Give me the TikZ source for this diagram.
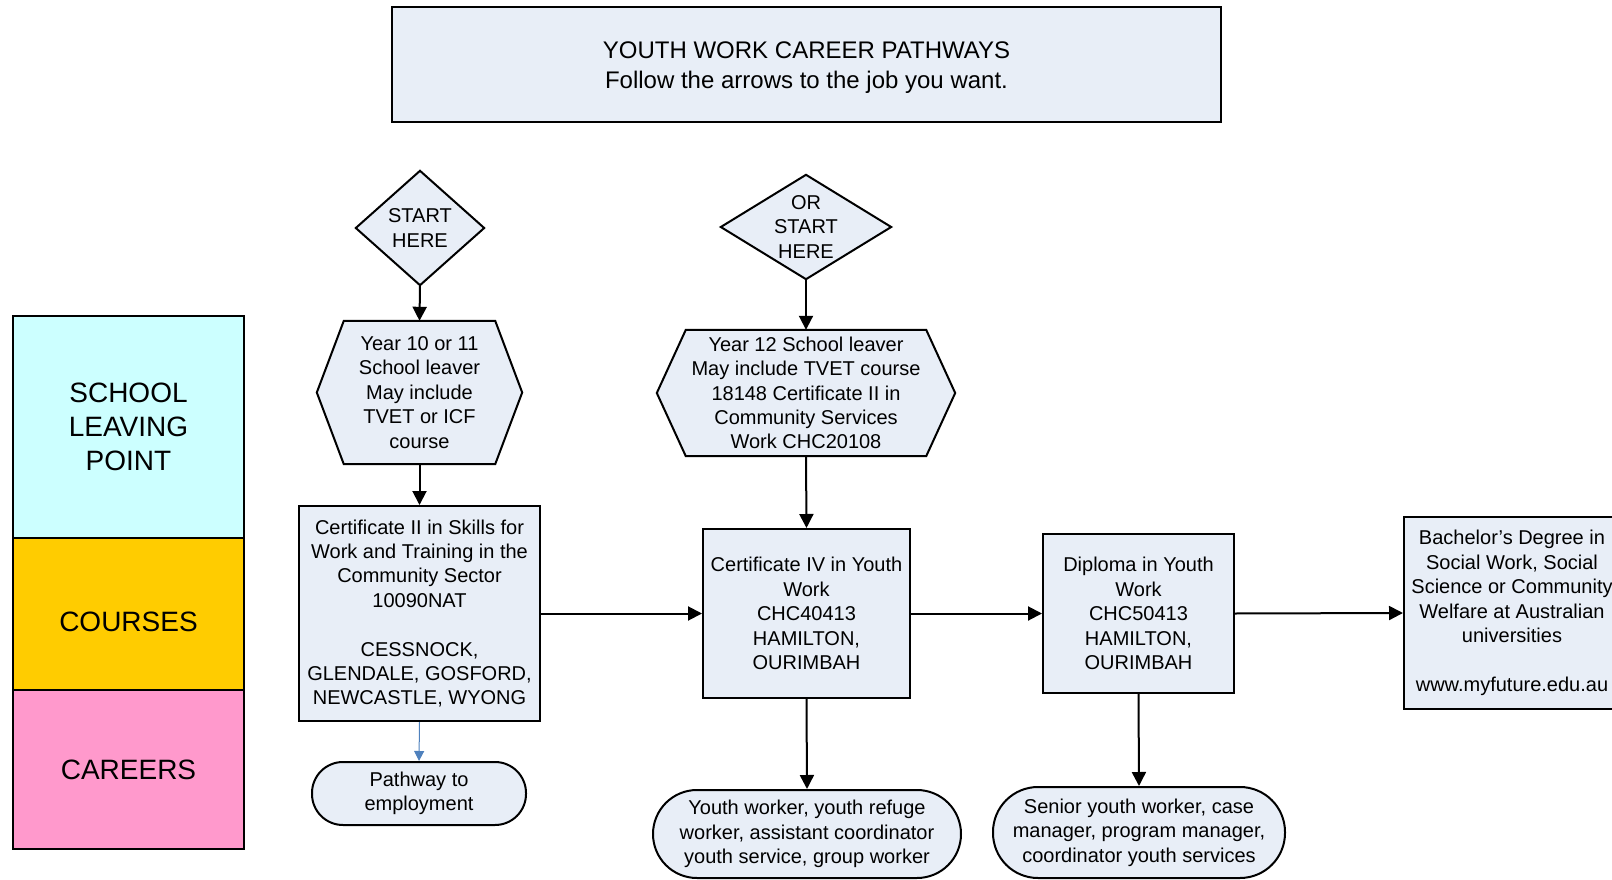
\documentclass[tikz,border=0pt]{standalone}
\usepackage{fontspec}
\setmainfont{Liberation Sans}
\usetikzlibrary{arrows.meta,backgrounds}
\definecolor{nodefill}{HTML}{E8EEF7}
\definecolor{schoolc}{HTML}{CCFFFF}
\definecolor{coursec}{HTML}{FFCC00}
\definecolor{careerc}{HTML}{FF99CC}
\definecolor{bluearrow}{HTML}{4F81BD}
\begin{document}
\begin{tikzpicture}[x=1pt,y=-1pt,
  txt/.style={font=\fontsize{20}{24.4}\selectfont, align=center, inner sep=0pt},
  boxn/.style={txt, draw, line width=2pt, fill=nodefill},
  stadium/.style={boxn, rounded corners=#1},
  ghost/.style={txt},
  outline/.style={draw, line width=2pt, fill=nodefill, line join=miter},
  lane/.style={draw, line width=2pt, font=\fontsize{28}{34}\selectfont, align=center, inner sep=0pt, minimum width=231pt},
  arr/.style={line width=2pt, -{Triangle[length=14pt,width=14pt]}},
  bluearr/.style={line width=1pt, draw=bluearrow, -{Triangle[length=10pt,width=10pt,fill=bluearrow]}}
]
\useasboundingbox (0,0) rectangle (1612,880);

% title
\node[boxn, font=\fontsize{24}{30}\selectfont, minimum width=829pt, minimum height=115pt, text height=52pt] (title) at (806.5,64.5)
  {YOUTH WORK CAREER PATHWAYS\\Follow the arrows to the job you want.};

% left lanes
\node[lane, fill=schoolc, minimum height=222pt] (school) at (128.5,427) {SCHOOL\\LEAVING\\POINT};
\node[lane, fill=coursec, minimum height=152pt, text height=34pt, text depth=0pt] (courses) at (128.5,614) {COURSES};
\node[lane, fill=careerc, minimum height=159pt] (careers) at (128.5,769.5) {CAREERS};

% diamonds and hexagons (text holders)
\node[ghost, minimum width=128pt, minimum height=114pt] (start1) at (420,228) {START\\HERE};
\node[ghost, minimum width=170pt, minimum height=104pt] (start2) at (806,227) {OR\\START\\HERE};
\node[ghost, minimum width=205pt, minimum height=143pt] (hex1) at (419.5,392.5)
  {Year 10 or 11\\School leaver\\May include\\TVET or ICF\\course};
\node[ghost, minimum width=298pt, minimum height=126pt] (hex2) at (806,393)
  {Year 12 School leaver\\May include TVET course\\18148 Certificate II in\\Community Services\\Work CHC20108};

\begin{scope}[on background layer]
  \filldraw[outline] (start1.north) -- (start1.east) -- (start1.south) -- (start1.west) -- cycle;
  \filldraw[outline] (start2.north) -- (start2.east) -- (start2.south) -- (start2.west) -- cycle;
  \filldraw[outline] ([xshift=27pt]hex1.north west) -- ([xshift=-27pt]hex1.north east) -- (hex1.east)
     -- ([xshift=-27pt]hex1.south east) -- ([xshift=27pt]hex1.south west) -- (hex1.west) -- cycle;
  \filldraw[outline] ([xshift=29pt]hex2.north west) -- ([xshift=-29pt]hex2.north east) -- (hex2.east)
     -- ([xshift=-29pt]hex2.south east) -- ([xshift=29pt]hex2.south west) -- (hex2.west) -- cycle;
\end{scope}

% course boxes
\node[boxn, minimum width=241pt, minimum height=215pt] (cert2) at (419.5,613.5)
  {Certificate II in Skills for\\Work and Training in the\\Community Sector\\10090NAT\\[24.4pt]CESSNOCK,\\GLENDALE, GOSFORD,\\NEWCASTLE, WYONG};
\node[boxn, minimum width=207pt, minimum height=169pt] (cert4) at (806.5,613.5)
  {Certificate IV in Youth\\Work\\CHC40413\\HAMILTON,\\OURIMBAH};
\node[boxn, minimum width=191pt, minimum height=159pt] (dipl) at (1138.5,613.5)
  {Diploma in Youth\\Work\\CHC50413\\HAMILTON,\\OURIMBAH};
\node[boxn, minimum width=216pt, minimum height=192pt] (bach) at (1512,613)
  {Bachelor’s Degree in\\Social Work, Social\\Science or Community\\Welfare at Australian\\universities\\[24.4pt]www.myfuture.edu.au};

% careers
\node[stadium=31pt, minimum width=214pt, minimum height=63pt] (pathway) at (419,793.5)
  {Pathway to\\employment};
\node[stadium=44pt, minimum width=308pt, minimum height=88pt] (youth) at (807,834)
  {Youth worker, youth refuge\\worker, assistant coordinator\\youth service, group worker};
\node[stadium=45pt, minimum width=292pt, minimum height=91pt] (senior) at (1139,832.5)
  {Senior youth worker, case\\manager, program manager,\\coordinator youth services};

% connectors
\draw[arr] (start1.south) -- (hex1.north);
\draw[arr] (hex1.south) -- (cert2.north);
\draw[arr] (start2.south) -- (hex2.north);
\draw[arr] (hex2.south) -- (cert4.north);
\draw[arr] (cert2.east) -- (cert4.west);
\draw[arr] (cert4.east) -- (dipl.west);
\draw[arr] (dipl.east) -- (bach.west);
\draw[bluearr] (cert2.south) -- (pathway.north);
\draw[arr] (cert4.south) -- (youth.north);
\draw[arr] (dipl.south) -- (senior.north);
\end{tikzpicture}
\end{document}
